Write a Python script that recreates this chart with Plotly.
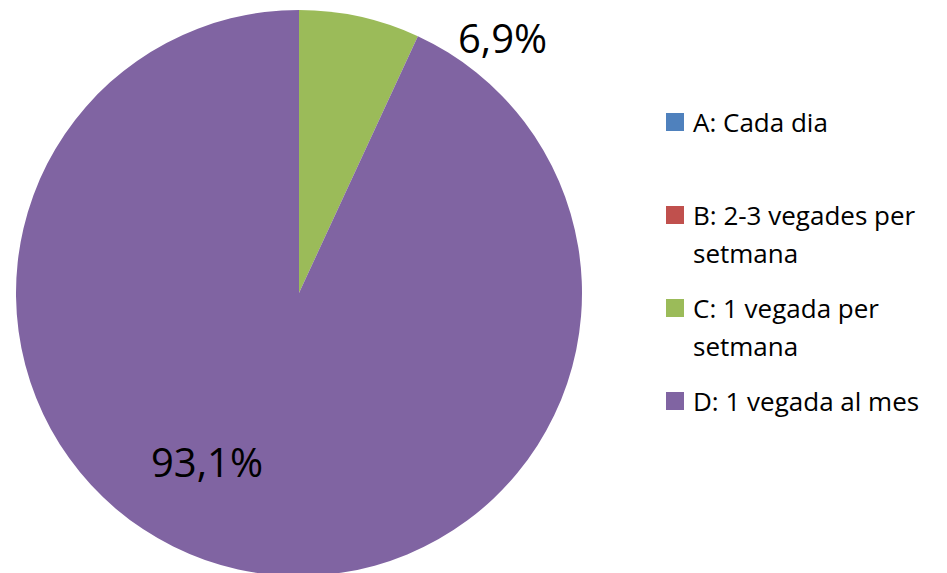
import plotly.graph_objects as go

categories = ["A: Cada dia", "B: 2-3 vegades per<br>setmana", "C: 1 vegada per<br>setmana", "D: 1 vegada al mes"]
values = [0.0, 0.0, 6.9, 93.1]
colors = ["#4F81BD", "#C0504D", "#9BBB59", "#8064A2"]
label_text = ["", "", "6,9%", "93,1%"]

W, H = 947, 573
FONT = "Open Sans"
OFF = 8  # page body offset


def px(x):
    return (x - OFF) / W


def py(y):
    return 1 - (y - OFF) / H


# pie: center (299, 293), radius 283 in screenshot coords
cx, cy_, r = 299, 293, 283
fig = go.Figure(go.Pie(
    labels=[c.replace("<br>", " ") for c in categories],
    values=values,
    marker=dict(colors=colors, line=dict(width=0)),
    sort=False,
    direction="clockwise",
    rotation=0,
    textinfo="none",
    hoverinfo="label+percent",
    domain=dict(x=[px(cx - r), px(cx + r)], y=[py(cy_ + r), py(cy_ - r)]),
    showlegend=False,
))

annotations = []
shapes = []
# data labels
annotations.append(dict(
    x=px(502), y=1, xref="paper", yref="paper",
    text=label_text[2], showarrow=False, xanchor="center", yanchor="top",
    font=dict(family=FONT, size=40, color="#000000"),
))
annotations.append(dict(
    x=px(207), y=py(461), xref="paper", yref="paper",
    text=label_text[3], showarrow=False, xanchor="center", yanchor="middle",
    font=dict(family=FONT, size=40, color="#000000"),
))

# manual legend
legend_y = [122, 215, 308, 401]
line_h = 38
for i, cat in enumerate(categories):
    ly = legend_y[i]
    shapes.append(dict(
        type="rect", xref="paper", yref="paper",
        x0=px(666), x1=px(684), y0=py(ly - 9), y1=py(ly + 9),
        fillcolor=colors[i], line=dict(width=0),
    ))
    for j, part in enumerate(cat.split("<br>")):
        annotations.append(dict(
            x=px(691), y=py(ly + j * line_h), xref="paper", yref="paper",
            text=part, showarrow=False, xanchor="left", yanchor="middle",
            font=dict(family=FONT, size=26, color="#000000"),
        ))

fig.update_layout(
    width=W, height=H,
    margin=dict(l=0, r=0, t=0, b=0),
    paper_bgcolor="white", plot_bgcolor="white",
    separators=",.",
    annotations=annotations,
    shapes=shapes,
)

fig.write_html("out.html")
